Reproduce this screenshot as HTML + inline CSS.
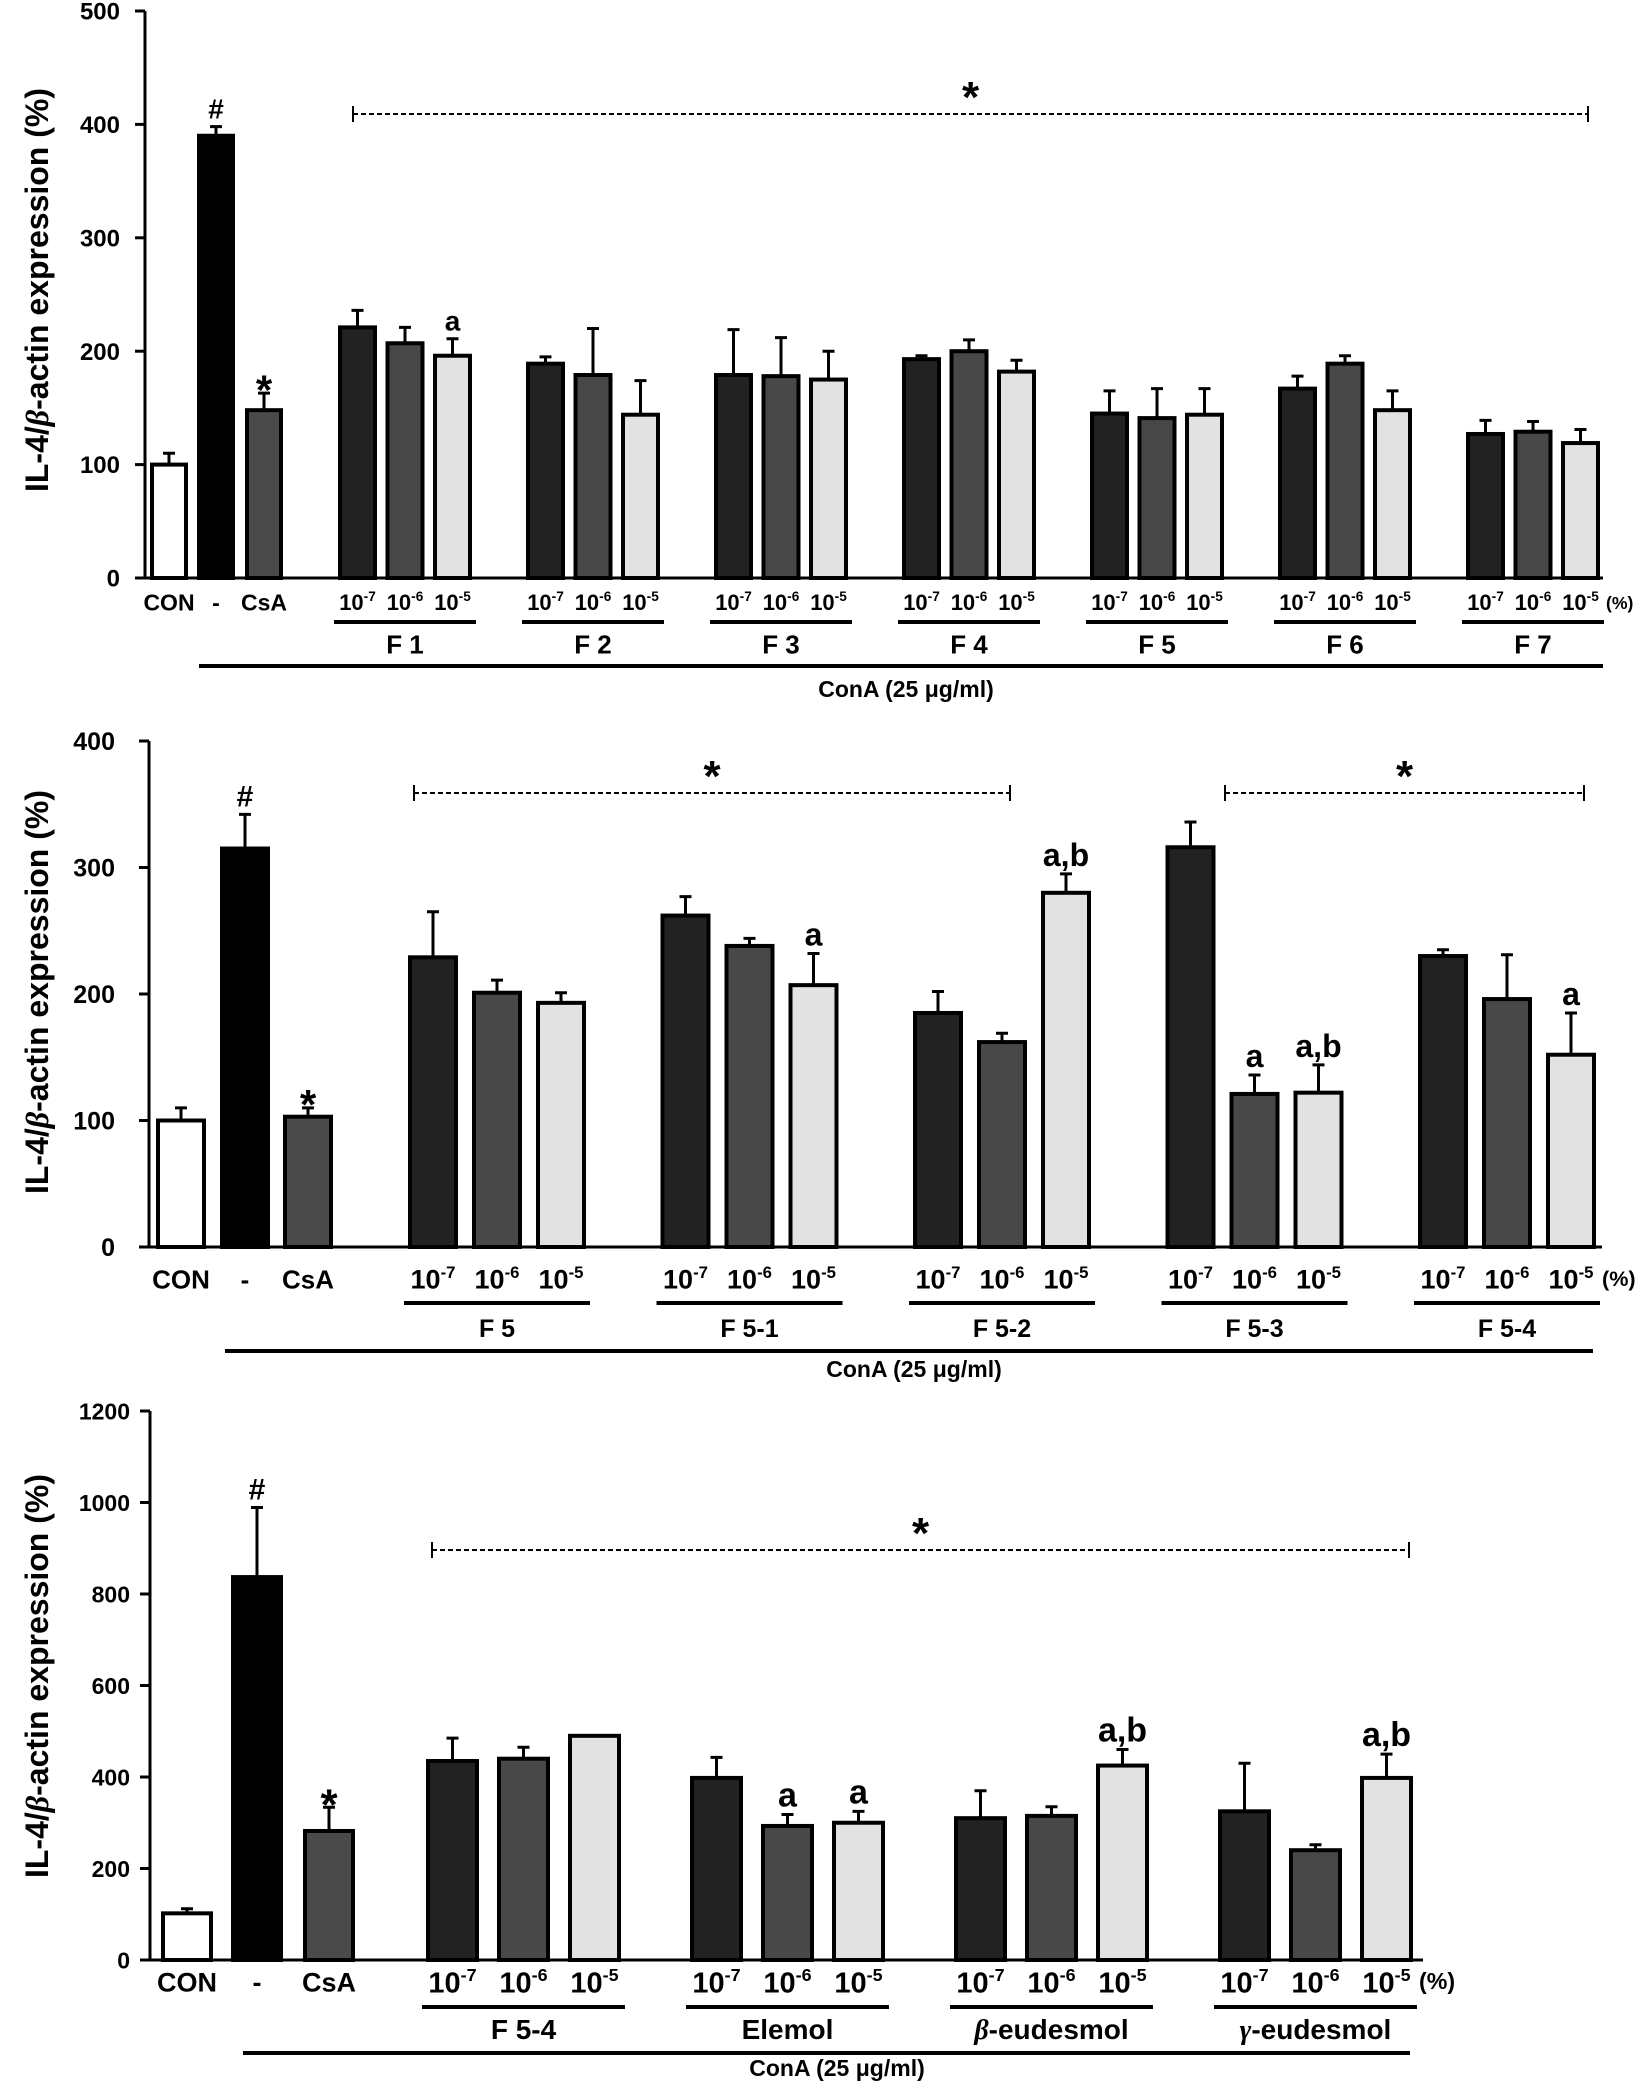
<!DOCTYPE html>
<html><head><meta charset="utf-8"><style>
html,body{margin:0;padding:0;background:#fff}
svg{display:block;font-family:"Liberation Sans",Arial,sans-serif;font-weight:bold}
</style></head><body>
<svg id="fig" width="1648" height="2092" viewBox="0 0 1648 2092" xmlns="http://www.w3.org/2000/svg"></svg>
<script>
// ---------- Chart 1 data ----------
const c1Controls = ["CON", "-", "CsA"];
const c1ControlValues = [100, 390, 148];
const c1ControlErrors = [10, 8, 15];
const c1ControlMarks = ["", "#", "*"];
const c1Groups = ["F 1", "F 2", "F 3", "F 4", "F 5", "F 6", "F 7"];
const c1Low = [221, 189, 179, 193, 145, 167, 127];
const c1Mid = [207, 179, 178, 200, 141, 189, 129];
const c1High = [196, 144, 175, 182, 144, 148, 119];
const c1LowErr = [15, 6, 40, 3, 20, 11, 12];
const c1MidErr = [14, 41, 34, 10, 26, 7, 9];
const c1HighErr = [15, 30, 25, 10, 23, 17, 12];
const c1Marks = [["", "", "a"], ["", "", ""], ["", "", ""], ["", "", ""], ["", "", ""], ["", "", ""], ["", "", ""]];
const c1Ticks = [0, 100, 200, 300, 400, 500];

// ---------- Chart 2 data ----------
const c2Controls = ["CON", "-", "CsA"];
const c2ControlValues = [100, 315, 103];
const c2ControlErrors = [10, 27, 7];
const c2ControlMarks = ["", "#", "*"];
const c2Groups = ["F 5", "F 5-1", "F 5-2", "F 5-3", "F 5-4"];
const c2Low = [229, 262, 185, 316, 230];
const c2Mid = [201, 238, 162, 121, 196];
const c2High = [193, 207, 280, 122, 152];
const c2LowErr = [36, 15, 17, 20, 5];
const c2MidErr = [10, 6, 7, 15, 35];
const c2HighErr = [8, 25, 15, 22, 33];
const c2Marks = [["", "", ""], ["", "", "a"], ["", "", "a,b"], ["", "a", "a,b"], ["", "", "a"]];
const c2Ticks = [0, 100, 200, 300, 400];

// ---------- Chart 3 data ----------
const c3Controls = ["CON", "-", "CsA"];
const c3ControlValues = [102, 837, 282];
const c3ControlErrors = [10, 152, 52];
const c3ControlMarks = ["", "#", "*"];
const c3Groups = ["F 5-4", "Elemol", "β-eudesmol", "γ-eudesmol"];
const c3Low = [435, 398, 310, 325];
const c3Mid = [440, 293, 315, 240];
const c3High = [490, 300, 425, 398];
const c3LowErr = [50, 45, 60, 105];
const c3MidErr = [25, 25, 20, 12];
const c3HighErr = [0, 25, 35, 52];
const c3Marks = [["", "", ""], ["", "a", "a"], ["", "", "a,b"], ["", "", "a,b"]];
const c3Ticks = [0, 200, 400, 600, 800, 1000, 1200];

const doses = ["-7", "-6", "-5"];
const svg = document.getElementById('fig');
const NS = "http://www.w3.org/2000/svg";
function mk(tag, attrs, parent, text) {
  const e = document.createElementNS(NS, tag);
  for (const k in attrs) e.setAttribute(k, attrs[k]);
  if (text !== undefined) e.textContent = text;
  (parent || svg).appendChild(e);
  return e;
}

function drawChart(id, L, d) {
  const g = mk('g', {});
  
  
  const yv = v => L.y0 - v * L.ppu;
  const maxT = d.ticks[d.ticks.length - 1];
  const ya = mk('line', {x1: L.ax, y1: yv(maxT), x2: L.ax, y2: L.y0, stroke: '#000', 'stroke-width': 3}, g);
  
  
  const xa = mk('line', {x1: L.ax - 10, y1: L.y0, x2: L.axEnd, y2: L.y0, stroke: '#000', 'stroke-width': 3}, g);
  
  
  d.ticks.forEach(t => {
    mk('line', {x1: L.ax - 10, y1: yv(t), x2: L.ax, y2: yv(t), stroke: '#000', 'stroke-width': 3}, g);
    const tl = mk('text', {x: L.tickX, y: yv(t) + L.tickFs * 0.36, 'text-anchor': 'end', 'font-size': L.tickFs, 'font-family': L.tickFont}, g, String(t));
    
    
  });
  const yt = mk('text', {x: 0, y: 0, 'text-anchor': 'middle', 'font-size': 32, transform: `translate(${L.titleX},${L.titleY}) rotate(-90)`}, g);
  
  
  mk('tspan', {}, yt, 'IL-4/');
  mk('tspan', {'font-style': 'italic', 'font-family': 'Liberation Serif, serif'}, yt, 'β');
  mk('tspan', {}, yt, '-actin expression (%)');

  function bar(x, w, v, err, fill, mark, name) {
    const top = yv(v);
    const r = mk('rect', {x: x, y: top, width: w, height: L.y0 - top, fill: fill, stroke: '#000', 'stroke-width': 4}, g);
    
    
    let capY = top;
    if (err > 0) {
      capY = yv(v + err);
      const e = mk('path', {d: `M${x + w / 2},${top} V${capY} M${x + w / 2 - 6},${capY} H${x + w / 2 + 6}`, stroke: '#000', 'stroke-width': 3, fill: 'none'}, g);
      
      
    }
    if (mark) {
      const fs = mark === '*' ? L.starFs : (mark === '#' ? L.hashFs : L.markFs);
      const y = mark === '*' ? capY + fs * 0.55 - 12 : capY - 8;
      const m = mk('text', {x: x + w / 2, y: y, 'text-anchor': 'middle', 'font-size': fs}, g, mark);
      
      
    }
  }
  const ctrlFills = ['#fff', '#000', '#4a4a4a'];
  d.controls.forEach((c, i) => {
    bar(L.ctrlX[i], L.ctrlW, d.cv[i], d.ce[i], ctrlFills[i], d.cm[i], 'bar-' + (c === '-' ? 'cona-only' : c.toLowerCase()));
    const t = mk('text', {x: L.ctrlX[i] + L.ctrlW / 2, y: L.labY + L.catFs * 0.36, 'text-anchor': 'middle', 'font-size': L.catFs}, g, c);
    
    
  });
  const fills = ['#222', '#484848', '#e2e2e2'];
  const vals = [d.low, d.mid, d.high], errs = [d.lowE, d.midE, d.highE];
  d.groups.forEach((gn, gi) => {
    const gx = L.gStart + gi * L.gSp;
    for (let k = 0; k < 3; k++) {
      const bx = gx + k * L.bSp;
      bar(bx, L.bW, vals[k][gi], errs[k][gi], fills[k], d.marks[gi][k], 'bar-' + gn.replace(/\s+/g, '') + '-1e' + doses[k]);
      const t = mk('text', {x: bx + L.bW / 2, y: L.labY + L.doseFs * 0.36, 'text-anchor': 'middle', 'font-size': L.doseFs}, g);
      
      
      mk('tspan', {}, t, '10');
      mk('tspan', {'font-size': L.doseFs * 0.62, dy: -L.doseFs * 0.4}, t, doses[k]);
    }
    const ul = mk('line', {x1: gx - 6, y1: L.gLineY, x2: gx + 2 * L.bSp + L.bW + 6, y2: L.gLineY, stroke: '#000', 'stroke-width': 4}, g);
    
    
    const gl = mk('text', {x: gx + L.bSp + L.bW / 2, y: L.gLabY + L.grpFs * 0.36, 'text-anchor': 'middle', 'font-size': L.grpFs}, g);
    
    
    if (gn[0] === 'β' || gn[0] === 'γ') {
      mk('tspan', {'font-style': 'italic', 'font-family': 'Liberation Serif, serif'}, gl, gn[0]);
      mk('tspan', {}, gl, gn.slice(1));
    } else gl.textContent = gn;
  });
  const lastX = L.gStart + (d.groups.length - 1) * L.gSp + 2 * L.bSp + L.bW;
  const pct = mk('text', {x: lastX + 8, y: L.labY + 7, 'font-size': L.doseFs * 0.8}, g, '(%)');
  
  
  const cl = mk('line', {x1: L.conaX1, y1: L.conaLineY, x2: L.conaX2, y2: L.conaLineY, stroke: '#000', 'stroke-width': 4}, g);
  
  
  const ct = mk('text', {x: L.conaTX, y: L.conaTY, 'text-anchor': 'middle', 'font-size': 23}, g, 'ConA (25 μg/ml)');
  
  
  L.dashes.forEach(s => {
    const dl = mk('path', {d: `M${s[0]},${L.dashY - 8} V${L.dashY + 8} M${s[1]},${L.dashY - 8} V${L.dashY + 8}`, stroke: '#000', 'stroke-width': 2, fill: 'none'}, g);
    
    
    const dd = mk('line', {x1: s[0], y1: L.dashY, x2: s[1], y2: L.dashY, stroke: '#000', 'stroke-width': 2, 'stroke-dasharray': '5,3'}, g);
    
    
    const st = mk('text', {x: (s[0] + s[1]) / 2, y: L.dashY - 2, 'text-anchor': 'middle', 'font-size': 44}, g, '*');
    
    
  });
}

drawChart('chart-f1-f7', {
  y0: 578, ppu: 1.134, ax: 145, axEnd: 1603, tickX: 120, tickFs: 24, tickFont: 'Liberation Sans, sans-serif',
  titleX: 48, titleY: 290, ctrlX: [152, 199, 247], ctrlW: 34, gStart: 340, gSp: 188, bSp: 47.5, bW: 35,
  labY: 602, gLineY: 622, gLabY: 644, conaLineY: 666, conaX1: 199, conaX2: 1603, conaTX: 906, conaTY: 697,
  catFs: 23, doseFs: 22, grpFs: 26, markFs: 28, hashFs: 28, starFs: 42,
  dashY: 114, dashes: [[353, 1588]]
}, {controls: c1Controls, cv: c1ControlValues, ce: c1ControlErrors, cm: c1ControlMarks, groups: c1Groups,
  low: c1Low, mid: c1Mid, high: c1High, lowE: c1LowErr, midE: c1MidErr, highE: c1HighErr, marks: c1Marks, ticks: c1Ticks});

drawChart('chart-f5-subfractions', {
  y0: 1247, ppu: 1.265, ax: 149, axEnd: 1602, tickX: 115, tickFs: 25, tickFont: 'Liberation Sans Narrow, Liberation Sans, sans-serif',
  titleX: 48, titleY: 992, ctrlX: [158, 222, 285], ctrlW: 46, gStart: 410, gSp: 252.5, bSp: 64, bW: 46,
  labY: 1279, gLineY: 1303, gLabY: 1328, conaLineY: 1351, conaX1: 225, conaX2: 1593, conaTX: 914, conaTY: 1377,
  catFs: 26, doseFs: 27, grpFs: 25, markFs: 32, hashFs: 30, starFs: 42,
  dashY: 793, dashes: [[414, 1010], [1225, 1584]]
}, {controls: c2Controls, cv: c2ControlValues, ce: c2ControlErrors, cm: c2ControlMarks, groups: c2Groups,
  low: c2Low, mid: c2Mid, high: c2High, lowE: c2LowErr, midE: c2MidErr, highE: c2HighErr, marks: c2Marks, ticks: c2Ticks});

drawChart('chart-compounds', {
  y0: 1960, ppu: 0.4575, ax: 150, axEnd: 1423, tickX: 130, tickFs: 23, tickFont: 'Liberation Sans Narrow, Liberation Sans, sans-serif',
  titleX: 48, titleY: 1676, ctrlX: [163, 233, 305], ctrlW: 48, gStart: 428, gSp: 264, bSp: 71, bW: 49,
  labY: 1982, gLineY: 2007, gLabY: 2029, conaLineY: 2053, conaX1: 243, conaX2: 1410, conaTX: 837, conaTY: 2076,
  catFs: 27, doseFs: 29, grpFs: 28, markFs: 34, hashFs: 30, starFs: 44,
  dashY: 1550, dashes: [[432, 1409]]
}, {controls: c3Controls, cv: c3ControlValues, ce: c3ControlErrors, cm: c3ControlMarks, groups: c3Groups,
  low: c3Low, mid: c3Mid, high: c3High, lowE: c3LowErr, midE: c3MidErr, highE: c3HighErr, marks: c3Marks, ticks: c3Ticks});
</script>
</body></html>
